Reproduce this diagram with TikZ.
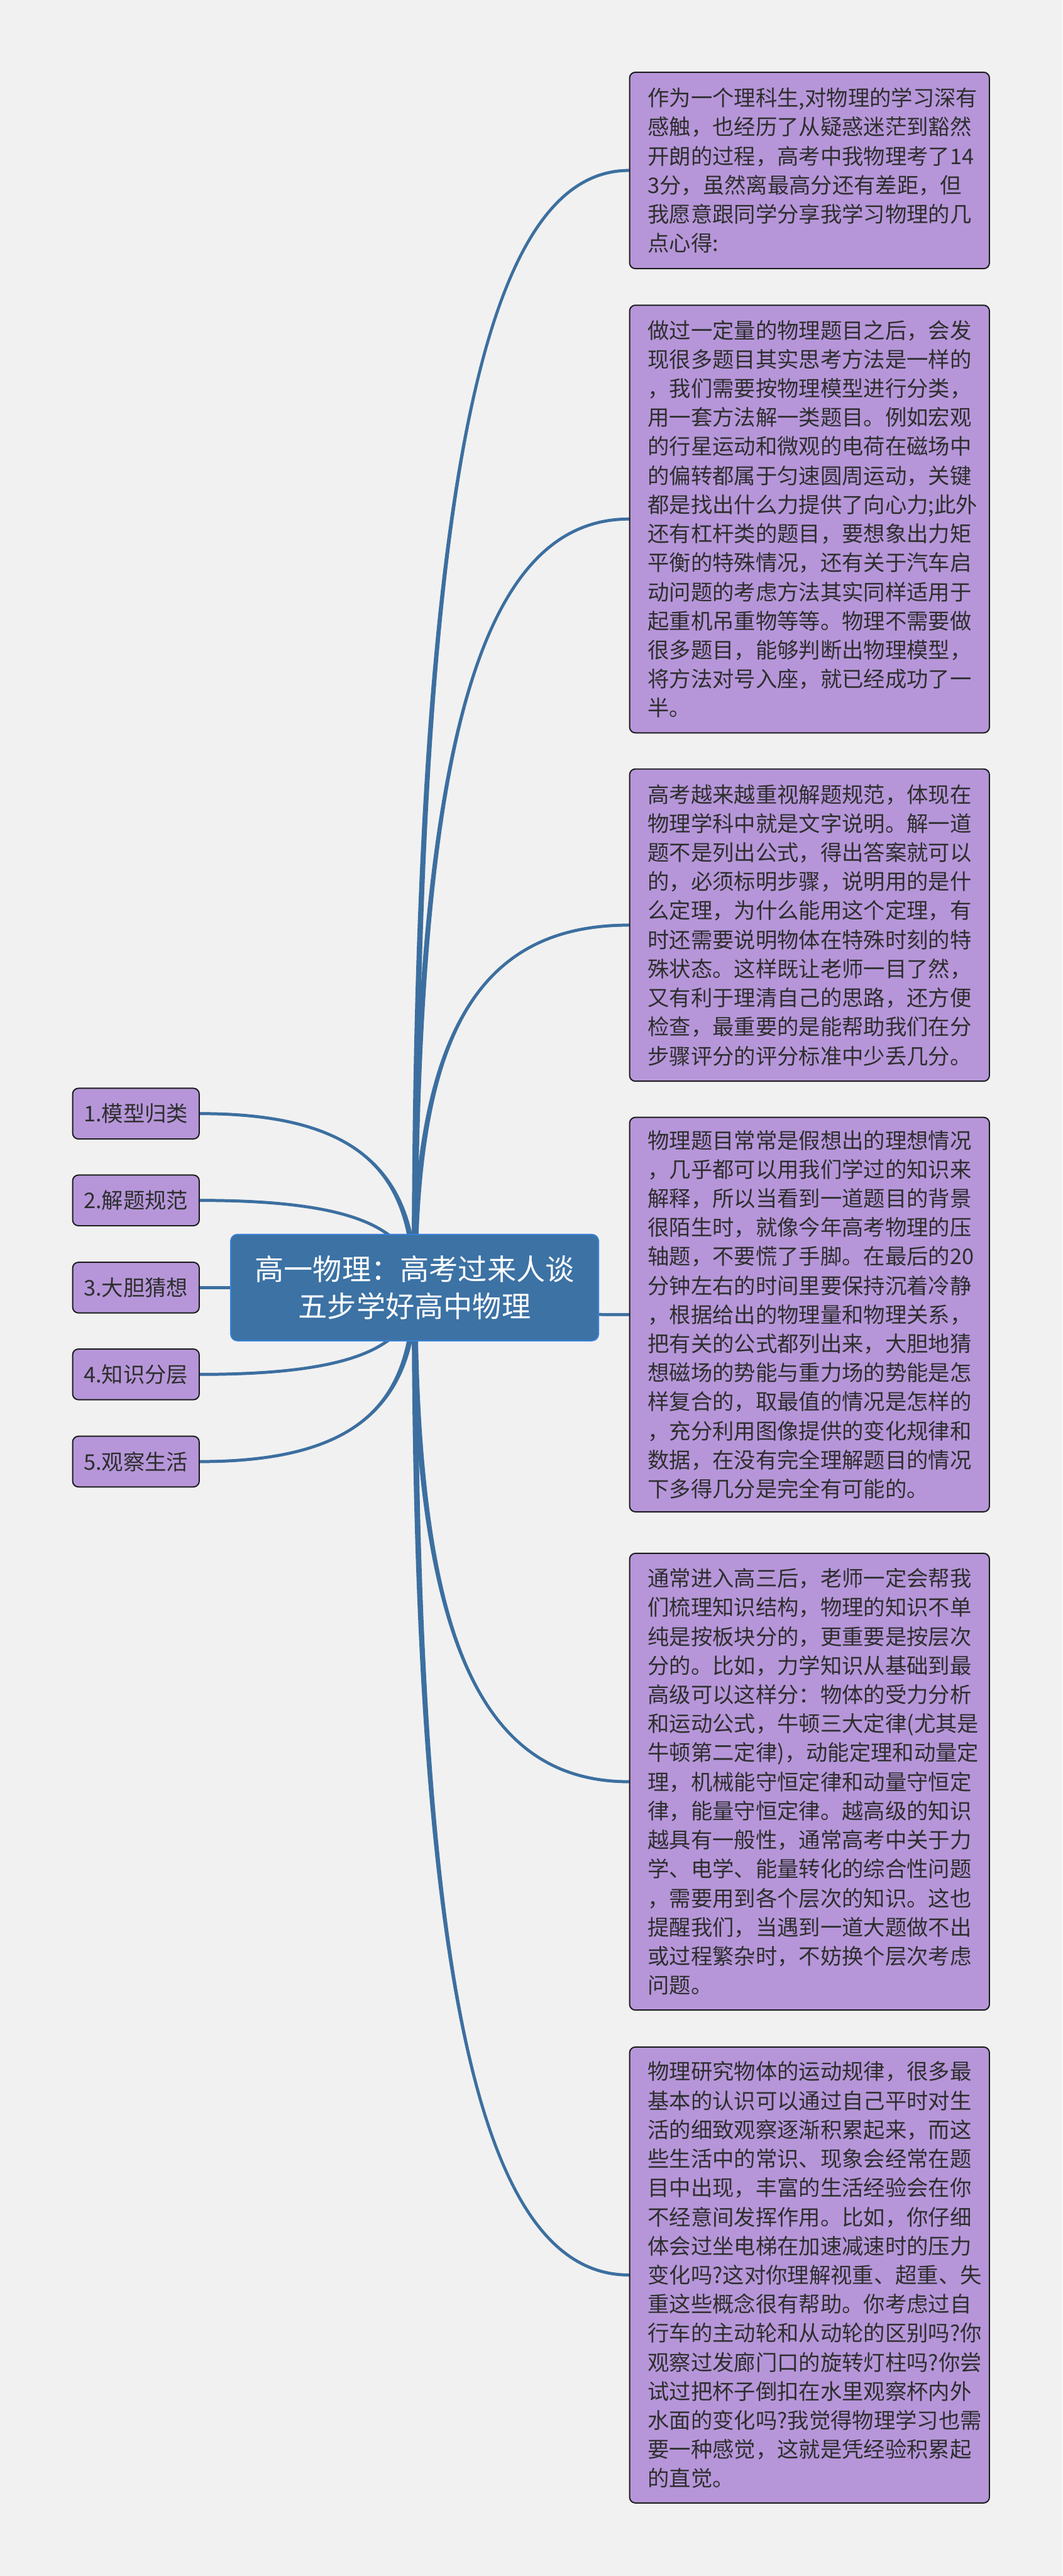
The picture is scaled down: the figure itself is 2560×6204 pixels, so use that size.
\documentclass[tikz,border=0pt]{standalone}
\usepackage{fontspec}
\setmainfont{Noto Sans CJK SC}
\usetikzlibrary{calc}
\pgfdeclarelayer{bg}
\pgfsetlayers{bg,main}
\definecolor{bgcol}{HTML}{F1F1F1}
\definecolor{linecol}{HTML}{3C6FA0}
\definecolor{boxfill}{HTML}{B696D9}
\definecolor{boxline}{HTML}{1C1C1C}
\definecolor{txtcol}{HTML}{2E2E2E}
\definecolor{cfill}{HTML}{3C72A4}
\definecolor{cline}{HTML}{3A7FD5}
\tikzset{
  rbox/.style={draw=boxline, fill=boxfill, line width=1.5pt, rounded corners=7pt,
    minimum width=433.5pt, inner sep=0pt},
  rtext/.style={anchor=west, align=left, inner sep=0pt, text=txtcol,
    font=\fontsize{26pt}{35pt}\selectfont},
  lbox/.style={draw=boxline, fill=boxfill, line width=1.5pt, rounded corners=7pt,
    minimum width=152.5pt, minimum height=61pt, inner sep=0pt, text=txtcol,
    font=\fontsize{26pt}{35pt}\selectfont},
  cbox/.style={draw=cline, fill=cfill, line width=1.5pt, rounded corners=8pt,
    minimum width=443pt, minimum height=128pt, inner sep=0pt, align=center,
    text=white, font=\fontsize{35pt}{44pt}\selectfont},
}
% #1 parent node, #2 child anchor, #3 sign
\newcommand\mmconn[3]{%
  \fill[linecol] let \p1=(#1.center), \p2=(#2) in
    (\x1-3.5pt,\y1) .. controls (\x1-3.5pt,{\y1+0.7*(\y2-\y1)}) and ({\x1+0.3*(\x2-\x1)},{\y2+#3*1.6pt}) .. (\x2,{\y2+#3*1.6pt})
    -- (\x2,{\y2-#3*1.6pt}) .. controls ({\x1+0.3*(\x2-\x1)},{\y2-#3*1.6pt}) and (\x1+3.5pt,{\y1+0.7*(\y2-\y1)}) .. (\x1+3.5pt,\y1) -- cycle;
  \draw[linecol, line width=3.6pt] let \p1=(#1.center), \p2=(#2) in
    (\x1,\y1) .. controls (\x1,{\y1+0.7*(\y2-\y1)}) and ({\x1+0.3*(\x2-\x1)},\y2) .. (\x2,\y2);
}
\begin{document}
\begin{tikzpicture}[x=0.5pt,y=-0.5pt]
\useasboundingbox (0,0) rectangle (2560,6204);
\begin{pgfonlayer}{bg}
\fill[bgcol] (0,0) rectangle (2560,6204);
\end{pgfonlayer}

% center
\node[cbox] (c) at (999,3101) {高一物理：高考过来人谈\\五步学好高中物理};

% left nodes
\node[lbox] (n1) at (327.5,2682) {1.模型归类};
\node[lbox] (n2) at (327.5,2891) {2.解题规范};
\node[lbox] (n3) at (327.5,3101) {3.大胆猜想};
\node[lbox] (n4) at (327.5,3310) {4.知识分层};
\node[lbox] (n5) at (327.5,3520) {5.观察生活};

% right boxes
\node[rbox, minimum height=236.5pt] (b1) at (1950.5,410.5) {};
\node[rtext] (t1) at ($(b1.west)+(45,0)$) {作为一个理科生,对物理的学习深有\\感触，也经历了从疑惑迷茫到豁然\\开朗的过程，高考中我物理考了14\\3分，虽然离最高分还有差距，但\\我愿意跟同学分享我学习物理的几\\点心得:};

\node[rbox, minimum height=515pt] (b2) at (1950.5,1250) {};
\node[rtext] (t2) at ($(b2.west)+(45,0)$) {做过一定量的物理题目之后，会发\\现很多题目其实思考方法是一样的\\，我们需要按物理模型进行分类，\\用一套方法解一类题目。例如宏观\\的行星运动和微观的电荷在磁场中\\的偏转都属于匀速圆周运动，关键\\都是找出什么力提供了向心力;此外\\还有杠杆类的题目，要想象出力矩\\平衡的特殊情况，还有关于汽车启\\动问题的考虑方法其实同样适用于\\起重机吊重物等等。物理不需要做\\很多题目，能够判断出物理模型，\\将方法对号入座，就已经成功了一\\半。};

\node[rbox, minimum height=376pt] (b3) at (1950.5,2228) {};
\node[rtext] (t3) at ($(b3.west)+(45,0)$) {高考越来越重视解题规范，体现在\\物理学科中就是文字说明。解一道\\题不是列出公式，得出答案就可以\\的，必须标明步骤，说明用的是什\\么定理，为什么能用这个定理，有\\时还需要说明物体在特殊时刻的特\\殊状态。这样既让老师一目了然，\\又有利于理清自己的思路，还方便\\检查，最重要的是能帮助我们在分\\步骤评分的评分标准中少丢几分。};

\node[rbox, minimum height=475pt] (b4) at (1950.5,3166) {};
\node[rtext] (t4) at ($(b4.west)+(45,0)$) {物理题目常常是假想出的理想情况\\，几乎都可以用我们学过的知识来\\解释，所以当看到一道题目的背景\\很陌生时，就像今年高考物理的压\\轴题，不要慌了手脚。在最后的20\\分钟左右的时间里要保持沉着冷静\\，根据给出的物理量和物理关系，\\把有关的公式都列出来，大胆地猜\\想磁场的势能与重力场的势能是怎\\样复合的，取最值的情况是怎样的\\，充分利用图像提供的变化规律和\\数据，在没有完全理解题目的情况\\下多得几分是完全有可能的。};

\node[rbox, minimum height=550pt] (b5) at (1950.5,4291) {};
\node[rtext] (t5) at ($(b5.west)+(45,0)$) {通常进入高三后，老师一定会帮我\\们梳理知识结构，物理的知识不单\\纯是按板块分的，更重要是按层次\\分的。比如，力学知识从基础到最\\高级可以这样分：物体的受力分析\\和运动公式，牛顿三大定律(尤其是\\牛顿第二定律)，动能定理和动量定\\理，机械能守恒定律和动量守恒定\\律，能量守恒定律。越高级的知识\\越具有一般性，通常高考中关于力\\学、电学、能量转化的综合性问题\\，需要用到各个层次的知识。这也\\提醒我们，当遇到一道大题做不出\\或过程繁杂时，不妨换个层次考虑\\问题。};

\node[rbox, minimum height=549pt] (b6) at (1950.5,5479) {};
\node[rtext] (t6) at ($(b6.west)+(45,0)$) {物理研究物体的运动规律，很多最\\基本的认识可以通过自己平时对生\\活的细致观察逐渐积累起来，而这\\些生活中的常识、现象会经常在题\\目中出现，丰富的生活经验会在你\\不经意间发挥作用。比如，你仔细\\体会过坐电梯在加速减速时的压力\\变化吗?这对你理解视重、超重、失\\重这些概念很有帮助。你考虑过自\\行车的主动轮和从动轮的区别吗?你\\观察过发廊门口的旋转灯柱吗?你尝\\试过把杯子倒扣在水里观察杯内外\\水面的变化吗?我觉得物理学习也需\\要一种感觉，这就是凭经验积累起\\的直觉。};

% connectors
\begin{pgfonlayer}{bg}
\mmconn{c}{b1.west}{1}
\mmconn{c}{b2.west}{1}
\mmconn{c}{b3.west}{1}
\mmconn{c}{b4.west}{-1}
\mmconn{c}{b5.west}{-1}
\mmconn{c}{b6.west}{-1}
\mmconn{c}{n1.east}{-1}
\mmconn{c}{n2.east}{-1}
\mmconn{c}{n3.east}{1}
\mmconn{c}{n4.east}{1}
\mmconn{c}{n5.east}{1}
\end{pgfonlayer}
\end{tikzpicture}
\end{document}
